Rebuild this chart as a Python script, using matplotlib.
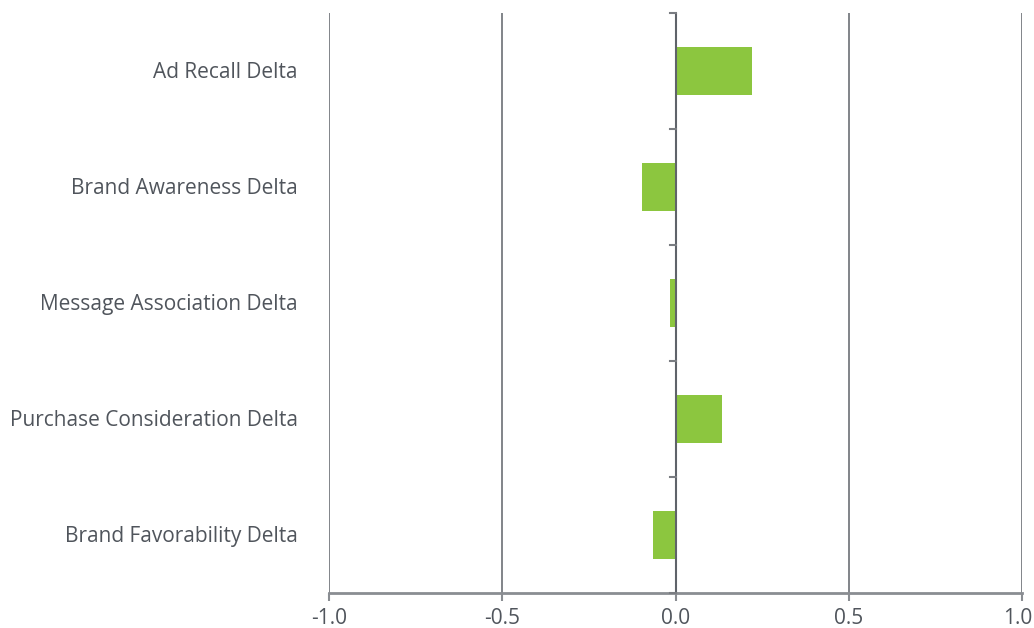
import matplotlib
matplotlib.use("Agg")
import matplotlib.pyplot as plt
import matplotlib.transforms as mtransforms
import numpy as np

plt.rcParams['font.family'] = ['Open Sans', 'DejaVu Sans']

# data, top to bottom as in the chart
categorias = ['Ad Recall Delta', 'Brand Awareness Delta', 'Message Association Delta',
              'Purchase Consideration Delta', 'Brand Favorability Delta']
valores = [0.222, -0.098, -0.015, 0.133, -0.064]
xticks = [-1.0, -0.5, 0.0, 0.5, 1.0]

cor_barra = '#8cc63f'
cor_texto = '#50555c'
cor_grade = '#5f636a'

fig = plt.figure(figsize=(10.34, 6.28), dpi=100)
ax = fig.add_axes([329/1034, 35/628, (1022-329)/1034, (593-13)/628])

y = np.arange(len(categorias))
ax.barh(y, valores, height=0.41, color=cor_barra, zorder=3)

ax.set_xlim(-1, 1)
ax.set_ylim(len(categorias) - 0.5, -0.5)

ax.set_xticks(xticks)
ax.set_xticklabels(['%.1f' % v for v in xticks])
ax.grid(axis='x', color=cor_grade, linewidth=1.1, zorder=1)

for s in ['top', 'right', 'left']:
    ax.spines[s].set_visible(False)
ax.spines['bottom'].set_color('#8a8d92')
ax.spines['bottom'].set_linewidth(2)

ax.tick_params(axis='x', colors='#8a8d92', length=6, width=1.5, labelcolor=cor_texto,
               labelsize=15, pad=5)

# last label sits on the figure edge, nudge it left so it isnt cut
ultimo = ax.get_xticklabels()[-1]
ultimo.set_transform(ultimo.get_transform() +
                     mtransforms.ScaledTranslation(-4/100, 0, fig.dpi_scale_trans))

# category labels drawn at the left edge, y axis line at x=0
ax.set_yticks([])
for i, c in enumerate(categorias):
    ax.text(-1.09, i + 0.01, c, ha='right', va='center', fontsize=15, color=cor_texto)

ax.axvline(0, color=cor_grade, linewidth=1.5, zorder=4)
for b in np.arange(-0.5, len(categorias), 1.0):
    ax.plot([-0.017, 0], [b, b], color='#7a7d82', linewidth=1.5, zorder=4, clip_on=False)

fig.savefig('out.png', dpi=100)
